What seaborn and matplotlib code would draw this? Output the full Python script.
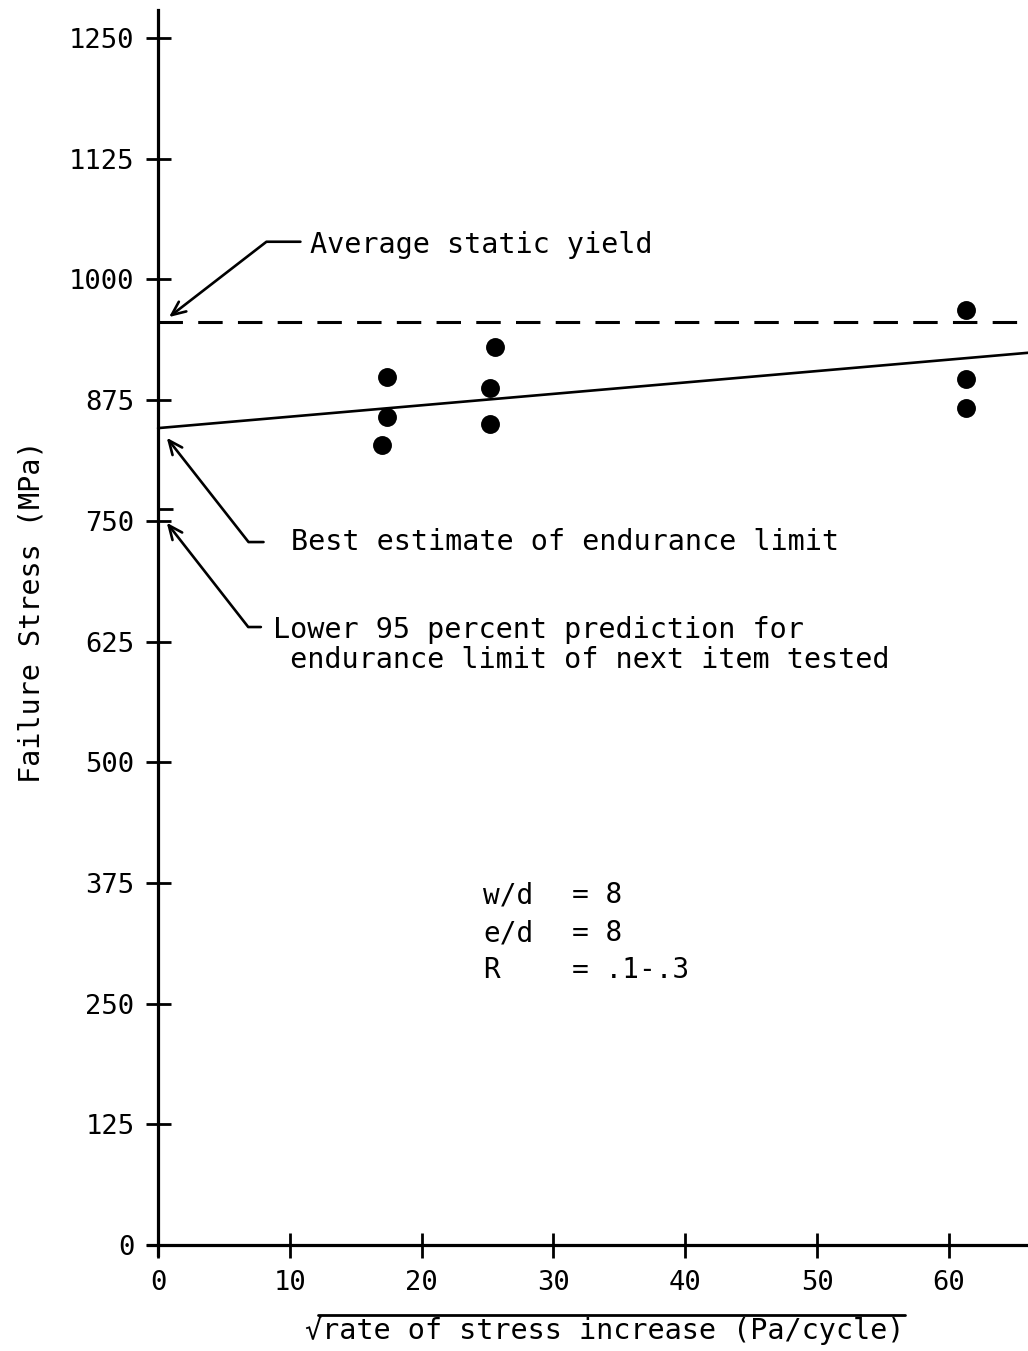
import numpy as np
import pandas as pd
import matplotlib
matplotlib.use("Agg")
import matplotlib.pyplot as plt
from matplotlib.lines import Line2D
import seaborn as sns

# --- data ---
rate_sqrt = [17.4, 17.4, 17.0, 25.6, 25.2, 25.2, 61.3, 61.3, 61.3]
failure_stress = [899, 857, 828, 930, 888, 850, 968, 897, 867]

fit_x = [0, 66]
fit_y = [846, 924]          # best estimate line
avg_static_yield = 956      # dashed line
lower95 = 762               # short mark on the y axis

xticks = [0, 10, 20, 30, 40, 50, 60]
yticks = [0, 125, 250, 375, 500, 625, 750, 875, 1000, 1125, 1250]

param_names = ["w/d", "e/d", "R"]
param_values = ["= 8", "= 8", "= .1-.3"]
param_y = [362, 323, 285]

# annotations: text, text pos, leader start, arrow tip, leader angle at tip
notes = [
    (["Average static yield"], (11.5, 1036), (10.8, 1039), (0.83, 961), 37.7),
    (["Best estimate of endurance limit"], (10.1, 728), (8.0, 728), (0.66, 836), -51.9),
    (["Lower 95 percent prediction for", " endurance limit of next item tested"],
     (8.7, 637), (7.8, 640), (0.66, 748), -52.0),
]

df = pd.DataFrame({"rate": rate_sqrt, "stress": failure_stress})
fit_df = pd.DataFrame({"rate": fit_x, "stress": fit_y})

sns.set_style("white")
plt.rcParams["font.family"] = ["DejaVu Sans Mono", "DejaVu Sans"]
plt.rcParams["text.color"] = "black"

fig = plt.figure(figsize=(10.28, 13.51), dpi=100)
ax = fig.add_axes([0.1435, 0.0713, 0.8565, 0.9213])

sns.scatterplot(data=df, x="rate", y="stress", color="black", s=185,
                linewidth=0, ax=ax, legend=False, zorder=3)
sns.lineplot(data=fit_df, x="rate", y="stress", color="black", lw=1.9, ax=ax)
ax.hlines(avg_static_yield, 0, 66, color="black", lw=2.2, linestyles=(0, (8, 5)))
ax.hlines(lower95, 0, 1.1, color="black", lw=2.0)

ax.set_xlim(-0.8, 66)
ax.set_ylim(-10, 1279)
ax.set_xticks(xticks)
ax.set_yticks(yticks)
ax.set_xlabel("")
ax.set_ylabel("")

for side in ["top", "right"]:
    ax.spines[side].set_visible(False)
for side in ["left", "bottom"]:
    ax.spines[side].set_position(("data", 0))
    ax.spines[side].set_linewidth(2.3)
    ax.spines[side].set_color("black")

ax.tick_params(axis="both", direction="inout", length=18, width=2,
               colors="black", labelsize=19.5, bottom=True, left=True)
ax.tick_params(axis="y", pad=8)
ax.tick_params(axis="x", pad=9)

# annotations with bent leaders
for lines, tpos, start, tip, ang in notes:
    for i, line in enumerate(lines):
        ax.text(tpos[0], tpos[1] - i * 31, line, fontsize=20.5,
                ha="left", va="center", color="black")
    ax.annotate("", xy=tip, xytext=start,
                arrowprops=dict(arrowstyle="->,head_length=0.5,head_width=0.22",
                                connectionstyle=f"angle,angleA=0,angleB={ang},rad=0",
                                color="black", lw=1.9, shrinkA=0, shrinkB=0,
                                mutation_scale=20))

for name, val, y in zip(param_names, param_values, param_y):
    ax.text(24.66, y, name, fontsize=20, ha="left", va="center", color="black")
    ax.text(31.4, y, val, fontsize=20, ha="left", va="center", color="black")

fig.text(0.031, 0.547, "Failure Stress (MPa)", rotation=90, fontsize=20.5,
         ha="center", va="center", color="black")
xlab_text = "√rate of stress increase (Pa/cycle)"
xlab = fig.text(0.5885, 0.0155, xlab_text, fontsize=20.5, ha="center",
                va="center", color="black")

# overline for the square root sign
fig.canvas.draw()
bb = xlab.get_window_extent()
cw = bb.width / len(xlab_text)
inv = fig.transFigure.inverted()
(x0, y0) = inv.transform((bb.x0 + cw * 0.75, bb.y1 + 1))
(x1, _) = inv.transform((bb.x1, bb.y1 + 1))
fig.add_artist(Line2D([x0, x1], [y0, y0], transform=fig.transFigure,
                      color="black", lw=2.0))

fig.savefig("out.png", dpi=100)
